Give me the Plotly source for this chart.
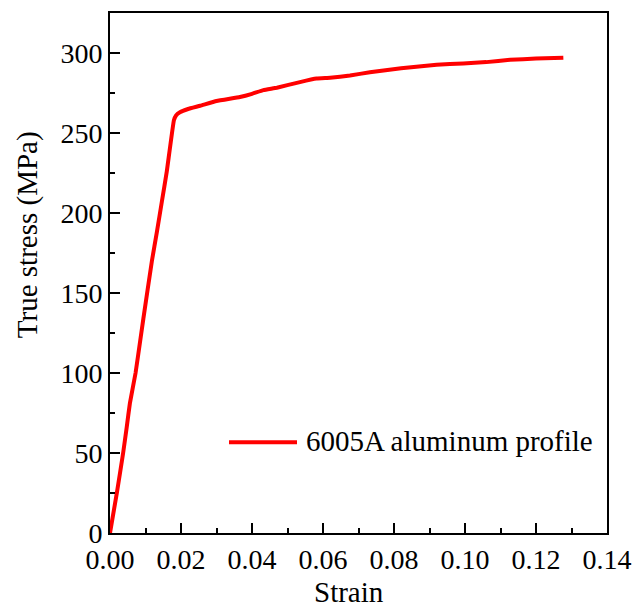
import plotly.graph_objects as go

# True stress-strain curve of the 6005A aluminum profile
strain = [0.0, 0.0020, 0.0037, 0.0047, 0.0056, 0.0072, 0.0085, 0.0094, 0.0118,
          0.0132, 0.0146, 0.0160, 0.0180, 0.0186, 0.0197, 0.0220, 0.0254, 0.0300,
          0.0366, 0.0400, 0.0432, 0.0470, 0.0535, 0.0582, 0.0620, 0.0676, 0.0732,
          0.0820, 0.0920, 0.0995, 0.1060, 0.1127, 0.1200, 0.1277]
stress = [0.0, 26.0, 50.0, 66.0, 81.0, 100.0, 120.0, 134.0, 170.0,
          188.0, 207.0, 226.0, 258.0, 261.0, 263.0, 265.0, 267.0, 270.0,
          272.5, 274.5, 276.8, 278.3, 281.8, 284.0, 284.5, 285.9, 288.0,
          290.5, 292.7, 293.4, 294.3, 295.8, 296.5, 297.1]

series_name = "6005A aluminum profile"
x_label = "Strain"
y_label = "True stress (MPa)"

FONT = "'Times New Roman', 'Liberation Serif', serif"
RED = "#ff0000"

fig = go.Figure()
fig.add_trace(go.Scatter(
    x=strain, y=stress, mode="lines", name=series_name,
    line=dict(color=RED, width=4, shape="spline", smoothing=0.3),
    showlegend=False,
))

axis_common = dict(
    showgrid=False, zeroline=False,
    showline=True, linecolor="black", linewidth=2, mirror=True,
    ticks="inside", ticklen=10, tickwidth=2, tickcolor="black",
    tickfont=dict(family=FONT, size=28, color="black"),
)

fig.update_xaxes(
    range=[0, 0.14], dtick=0.02, tick0=0, tickformat=".2f",
    minor=dict(dtick=0.01, ticks="inside", ticklen=5, tickwidth=2, tickcolor="black"),
    **axis_common,
)
fig.update_yaxes(
    range=[0, 325], dtick=50, tick0=0,
    minor=dict(dtick=25, ticks="inside", ticklen=5, tickwidth=2, tickcolor="black"),
    **axis_common,
)

W, H = 644, 607
L, R, T, B = 110, 37, 11, 74
pw, ph = W - L - R, H - T - B


def px_x(p):
    return (p - L) / pw


def px_y(p):
    return (H - B - p) / ph


annotations = [
    dict(text=x_label, x=px_x(348.5), y=px_y(592), xref="paper", yref="paper",
         showarrow=False, xanchor="center", yanchor="middle",
         font=dict(family=FONT, size=29, color="black")),
    dict(text=y_label, x=px_x(27), y=px_y(234), xref="paper", yref="paper",
         showarrow=False, xanchor="center", yanchor="middle", textangle=-90,
         font=dict(family=FONT, size=29, color="black")),
    dict(text=series_name, x=px_x(304), y=px_y(441), xref="paper", yref="paper",
         showarrow=False, xanchor="left", yanchor="middle",
         font=dict(family=FONT, size=29, color="black")),
]

shapes = [
    dict(type="line", xref="paper", yref="paper",
         x0=px_x(229), x1=px_x(297), y0=px_y(442), y1=px_y(442),
         line=dict(color=RED, width=4)),
]

fig.update_layout(
    width=W, height=H,
    margin=dict(l=L, r=R, t=T, b=B),
    paper_bgcolor="white", plot_bgcolor="white",
    font=dict(family=FONT, size=28, color="black"),
    annotations=annotations, shapes=shapes,
)

fig.write_html("out.html")
